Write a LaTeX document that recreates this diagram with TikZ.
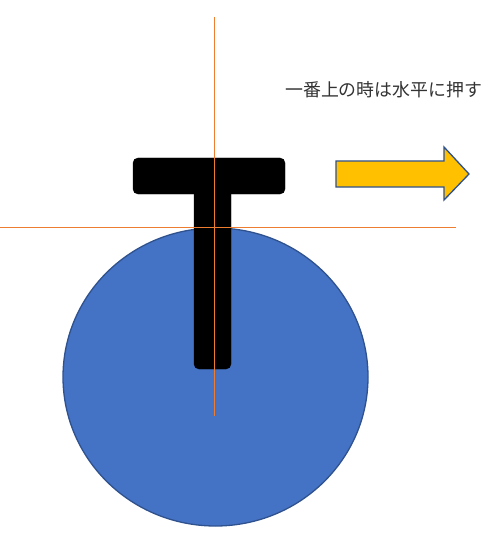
\documentclass[tikz,border=0pt]{standalone}
\usepackage{fontspec}
\newfontfamily\jpfont{Noto Sans CJK JP}
\usepackage{tikz}
\definecolor{guide}{HTML}{ED7D31}
\definecolor{disc}{HTML}{4472C4}
\definecolor{discline}{HTML}{2F528F}
\definecolor{push}{HTML}{FFC000}
\begin{document}
\begin{tikzpicture}[x=1pt, y=-1pt]
			%%%%% START %%%%%
			\useasboundingbox (0, 0) rectangle (481, 540);
			
			\draw[line width=1.3pt, color=discline, fill=disc] (215.5, 377) ellipse (152.5 and 149);
			
			\draw[fill=black, rounded corners=5pt] (133, 158) rectangle (285, 194);
			\draw[fill=black, rounded corners=5pt] (194, 180) rectangle (231, 369);
			
			\draw[line width=0.9pt, color=guide] (214.5, 17) -- (214.5, 416);
			\draw[line width=0.9pt, color=guide] (0, 227.5) -- (456, 227.5);
			
			\draw[line width=1.3pt, color=discline, fill=push, line join=miter]
				(336, 161) -- (444, 161) -- (444, 147) -- (469, 174) -- (444, 200) -- (444, 187) -- (336, 187) -- cycle;
			
			\node[anchor=west, inner sep=0pt, text=black!80] (note) at (285, 90)
				{\jpfont\fontsize{17.9}{20}\selectfont 一番上の時は水平に押す};
			%%%%% END %%%%%
		\end{tikzpicture}
\end{document}
